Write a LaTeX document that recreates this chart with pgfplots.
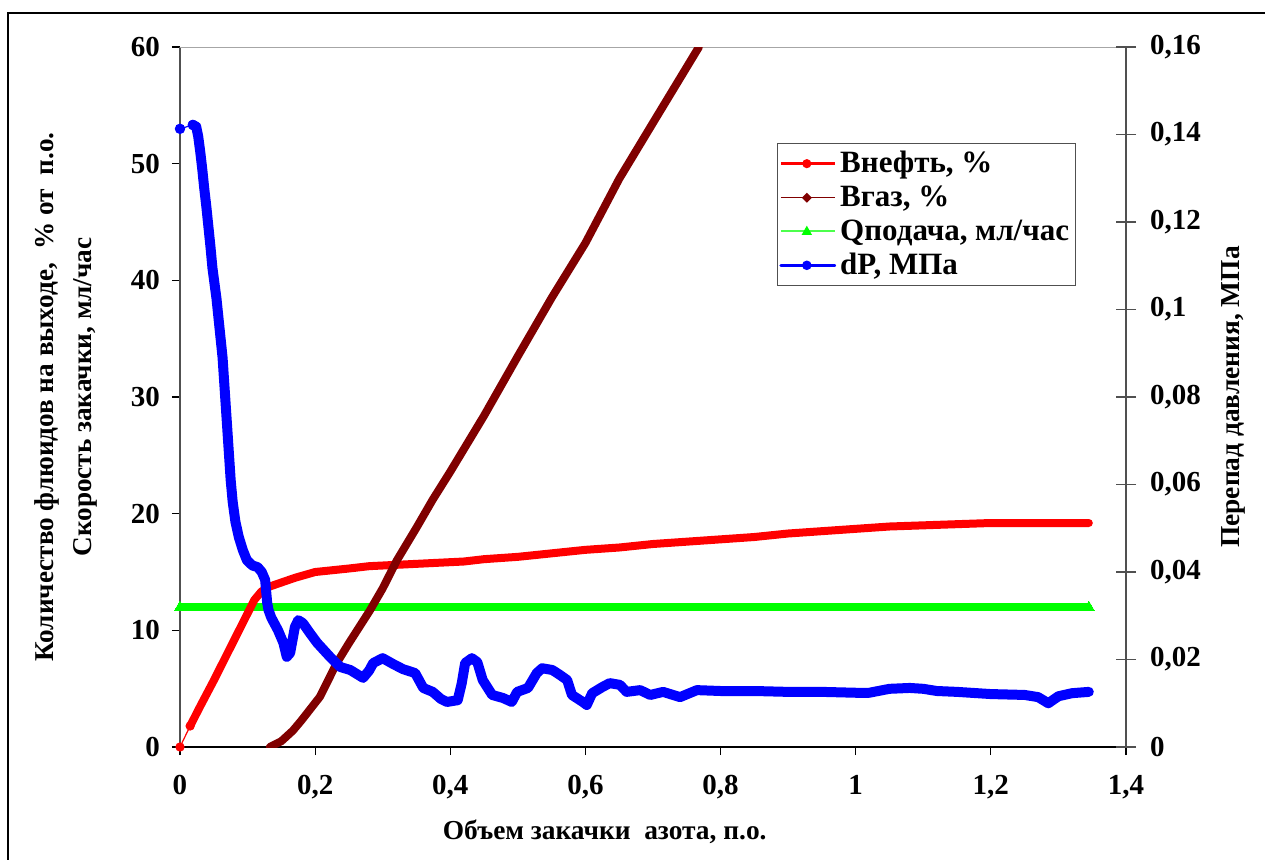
\documentclass[border=0pt]{standalone}
\usepackage{fontspec}
\setmainfont{Liberation Serif}
\usepackage{pgfplots}
\pgfplotsset{compat=1.18}
\definecolor{dred}{RGB}{128,0,0}
\definecolor{lgreen}{RGB}{0,255,0}
\definecolor{axgray}{RGB}{80,80,80}
\newcommand{\lbl}{\bfseries\fontsize{13.7}{16}\selectfont}
\newcommand{\tlbl}{\bfseries\fontsize{14.5}{16}\selectfont}
\newcommand{\lglbl}{\bfseries\fontsize{15.5}{18}\selectfont}
\begin{document}
\begin{tikzpicture}[x=1pt,y=1pt]
\useasboundingbox (-90,-56) rectangle (542.5,373.5);
\draw[line width=0.9pt] (-86,-60) -- (-86,367) -- (546,367);
\pgfplotsset{
  every axis/.append style={
    at={(0,0)}, anchor=south west, scale only axis, width=473pt, height=350pt,
    xmin=0, xmax=1.4,
    font=\lbl,
    tick label style={font=\tlbl},
    scaled ticks=false,
    /pgf/number format/assume math mode=true,
    /pgf/number format/fixed,
    /pgf/number format/precision=2,
    /pgf/number format/use comma,
    /pgf/number format/1000 sep={},
  }
}
\begin{axis}[
  ymin=0, ymax=60,
  axis x line=bottom, axis y line=left,
  axis line style={-},
  x axis line style={black, line width=0.8pt},
  y axis line style={axgray, line width=0.9pt},
  xtick={0,0.2,0.4,0.6,0.8,1,1.2,1.4},
  ytick={0,10,20,30,40,50,60},
  tick align=outside, major tick length=4pt,
  tick style={black, line width=0.6pt},
  xticklabel style={yshift=-6.5pt},
  yticklabel style={xshift=-2.5pt},
  xlabel={Объем закачки\ \ азота, п.о.},
  xlabel style={at={(axis description cs:0.449,-0.121)}, anchor=center},
  ylabel={Количество флюидов на выходе,\ \ \% от\ \ п.о.\\Скорость закачки, мл/час},
  ylabel style={at={(axis description cs:-0.121,0.5)}, anchor=center, align=center, font=\bfseries\fontsize{13.6}{19}\selectfont},
]
\draw[black!35, line width=0.8pt] (rel axis cs:0,1) -- (rel axis cs:1,1);
% Qpodacha
\addplot[lgreen, line width=4pt, mark=triangle*, mark size=3pt, mark options={line width=0pt}] coordinates {(0,12) (1.345,12)};
% Vneft
\addplot[red, line width=0.6pt, mark=*, mark size=2pt, mark options={fill=red}] coordinates {(0,0) (0.015,1.8)};
\addplot[red, line width=4pt, line join=round, line cap=round] coordinates {
(0.015,1.8) (0.03,3.5) (0.05,5.7) (0.07,8.0) (0.09,10.3) (0.11,12.6) (0.12,13.3)
(0.13,13.7) (0.15,14.1) (0.17,14.5) (0.20,15.0) (0.25,15.3) (0.28,15.5)
(0.35,15.7) (0.42,15.9) (0.45,16.1) (0.50,16.3) (0.55,16.6) (0.60,16.9)
(0.65,17.1) (0.70,17.4) (0.75,17.6) (0.80,17.8) (0.85,18.0) (0.90,18.3)
(0.95,18.5) (1.00,18.7) (1.05,18.9) (1.10,19.0) (1.15,19.1) (1.20,19.2) (1.345,19.2)
};
% Vgaz
\addplot[dred, line width=4pt, line join=round, line cap=round] coordinates {
(0.133,0.0) (0.15,0.5) (0.167,1.4) (0.18,2.3) (0.207,4.3) (0.232,7.2)
(0.25,8.9) (0.281,11.7) (0.30,13.6) (0.321,16.0) (0.35,18.8) (0.374,21.2)
(0.40,23.6) (0.45,28.4) (0.50,33.5) (0.55,38.5) (0.60,43.2) (0.65,48.7)
(0.70,53.5) (0.768,60)
};
\end{axis}
\begin{axis}[
  ymin=0, ymax=0.16,
  axis x line=none, axis y line=right,
  axis line style={-, axgray, line width=0.9pt},
  ytick={0,0.02,0.04,0.06,0.08,0.1,0.12,0.14,0.16},
  tick align=center, major tick length=10pt,
  tick style={axgray, line width=0.6pt},
  yticklabel style={xshift=3.5pt},
  ylabel={Перепад давления, МПа},
  ylabel style={at={(axis description cs:1.114,0.5)}, anchor=center},
  legend style={at={(axis description cs:0.631,0.863)}, anchor=north west,
    draw=axgray, line width=0.5pt, fill=white, font=\lglbl,
    row sep=1pt, inner xsep=1pt, inner ysep=2pt, cells={anchor=west}},
]
\addlegendimage{legend image code/.code={
  \draw[red, line width=1.4pt] (0pt,0pt) -- (27pt,0pt);
  \fill[red, draw=none] (13pt,0pt) circle (2.3pt);}}
\addlegendentry{Внефть, \%}
\addlegendimage{legend image code/.code={
  \draw[dred, line width=0.6pt] (0pt,0pt) -- (27pt,0pt);
  \fill[dred, draw=none] (13pt,2.5pt) -- (15.5pt,0pt) -- (13pt,-2.5pt) -- (10.5pt,0pt) -- cycle;}}
\addlegendentry{Вгаз, \%}
\addlegendimage{legend image code/.code={
  \draw[lgreen!70!white, line width=0.8pt] (0pt,0pt) -- (27pt,0pt);
  \fill[lgreen, draw=none] (13pt,2.8pt) -- (15.6pt,-1.8pt) -- (10.4pt,-1.8pt) -- cycle;}}
\addlegendentry{Qподача, мл/час}
\addplot[blue, line width=0.6pt, mark=*, mark size=2.3pt, mark options={fill=blue}, forget plot] coordinates {(0,0.1413) (0.019,0.1422)};
\addplot[blue, line width=5pt, line join=round, line cap=round,
  legend image code/.code={
  \draw[blue, line width=1.4pt] (0pt,0pt) -- (27pt,0pt);
  \fill[blue, draw=none] (13pt,0pt) circle (2.4pt);}] coordinates {
(0.019,0.1422) (0.024,0.1418) (0.027,0.1395) (0.030,0.1360) (0.033,0.1320)
(0.036,0.1275) (0.039,0.1235) (0.042,0.1190) (0.045,0.1145) (0.048,0.1095)
(0.051,0.1060) (0.054,0.1025) (0.057,0.0980) (0.060,0.0935) (0.063,0.0890)
(0.066,0.0820) (0.069,0.0750) (0.072,0.0680) (0.075,0.0610) (0.078,0.0560)
(0.082,0.0515) (0.087,0.0480) (0.093,0.0450)
(0.099,0.0427) (0.107,0.0415) (0.115,0.0411) (0.121,0.0400) (0.126,0.0382)
(0.129,0.0330) (0.131,0.0313) (0.135,0.0296) (0.145,0.0267) (0.153,0.0238)
(0.158,0.0206) (0.163,0.0215) (0.170,0.0274) (0.175,0.0290) (0.182,0.0283)
(0.192,0.0261) (0.203,0.0238) (0.222,0.0206) (0.237,0.0183) (0.252,0.0176)
(0.271,0.0158) (0.280,0.0175) (0.286,0.0192) (0.300,0.0203) (0.315,0.0190)
(0.330,0.0178) (0.348,0.0169) (0.360,0.0135) (0.374,0.0126) (0.386,0.0110)
(0.395,0.0103) (0.411,0.0107) (0.417,0.0146) (0.422,0.0192) (0.432,0.0203)
(0.440,0.0194) (0.448,0.0153) (0.462,0.0119) (0.478,0.0112) (0.491,0.0103)
(0.499,0.0126) (0.515,0.0135) (0.528,0.0169) (0.536,0.0180) (0.551,0.0176)
(0.562,0.0165) (0.573,0.0153) (0.580,0.0119) (0.596,0.0103) (0.602,0.0096)
(0.610,0.0123) (0.625,0.0137) (0.636,0.0146) (0.651,0.0142) (0.661,0.0126)
(0.681,0.0130) (0.696,0.0119) (0.715,0.0126) (0.740,0.0114) (0.765,0.0130)
(0.80,0.0128) (0.85,0.0128) (0.90,0.0126) (0.95,0.0126) (1.00,0.0124)
(1.02,0.0124) (1.05,0.0133) (1.08,0.0135) (1.10,0.0133) (1.12,0.0128)
(1.15,0.0126) (1.20,0.0121) (1.25,0.0119) (1.27,0.0114) (1.285,0.0100)
(1.30,0.0116) (1.32,0.0123) (1.345,0.0126)
};
\addlegendentry{dP, МПа}
\end{axis}
\end{tikzpicture}
\end{document}
